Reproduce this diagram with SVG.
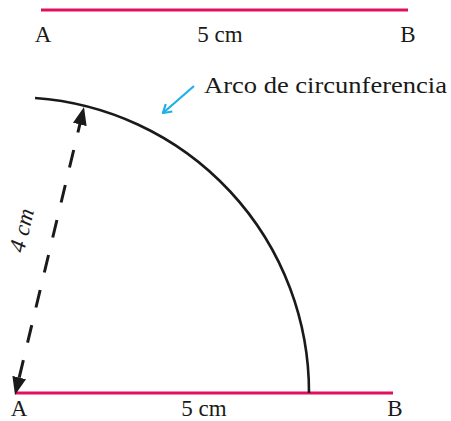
<svg xmlns="http://www.w3.org/2000/svg" width="451" height="421" viewBox="0 0 451 421">
<defs>
<style>
.seg{stroke:#e0105e;stroke-width:3;fill:none}
.lbl{font-family:"Liberation Serif","DejaVu Serif",serif;font-size:23px;fill:#1a1a1a}
.arc{stroke:#1a1a1a;stroke-width:2.6;fill:none}
.dash{stroke:#1a1a1a;stroke-width:3;fill:none;stroke-dasharray:18 18;stroke-dashoffset:27.8}
.pointer{stroke:#1cb0e8;stroke-width:2.2;fill:none}
</style>
<marker id="tri" viewBox="0 0 18 14" markerWidth="18" markerHeight="14" refX="18" refY="7" orient="auto-start-reverse" markerUnits="userSpaceOnUse">
<path d="M0,0 L18,7 L0,14 z" fill="#1a1a1a"/>
</marker>
<marker id="vee" viewBox="0 0 10 12" markerWidth="10" markerHeight="12" refX="9" refY="6" orient="auto" markerUnits="userSpaceOnUse">
<path d="M1,1 L9,6 L1,11" fill="none" stroke="#1cb0e8" stroke-width="2.2"/>
</marker>
</defs>
<g id="segment-top">
<line class="seg" x1="41" y1="10" x2="408" y2="10"/>
<text class="lbl" x="43" y="42" text-anchor="middle">A</text>
<text class="lbl" x="220" y="42" text-anchor="middle">5 cm</text>
<text class="lbl" x="408" y="42" text-anchor="middle">B</text>
</g>
<g id="segment-bottom">
<line class="seg" x1="15" y1="393" x2="393" y2="393"/>
<text class="lbl" x="19" y="416" text-anchor="middle">A</text>
<text class="lbl" x="204" y="416" text-anchor="middle">5 cm</text>
<text class="lbl" x="395" y="416" text-anchor="middle">B</text>
</g>
<g id="arc">
<path class="arc" d="M35,98 A295,295 0 0 1 309,393"/>
</g>
<g id="arc-label">
<text class="lbl" x="204" y="93" textLength="243" lengthAdjust="spacingAndGlyphs">Arco de circunferencia</text>
</g>
<g id="radius-label">
<text class="lbl" font-style="italic" transform="translate(29,232) rotate(-76.5)" text-anchor="middle">4 cm</text>
</g>
<g id="connectors">
<path class="dash" d="M84,107 L15,395" marker-start="url(#tri)" marker-end="url(#tri)"/>
<line class="pointer" x1="194" y1="86" x2="163" y2="113" marker-end="url(#vee)"/>
</g>
</svg>
